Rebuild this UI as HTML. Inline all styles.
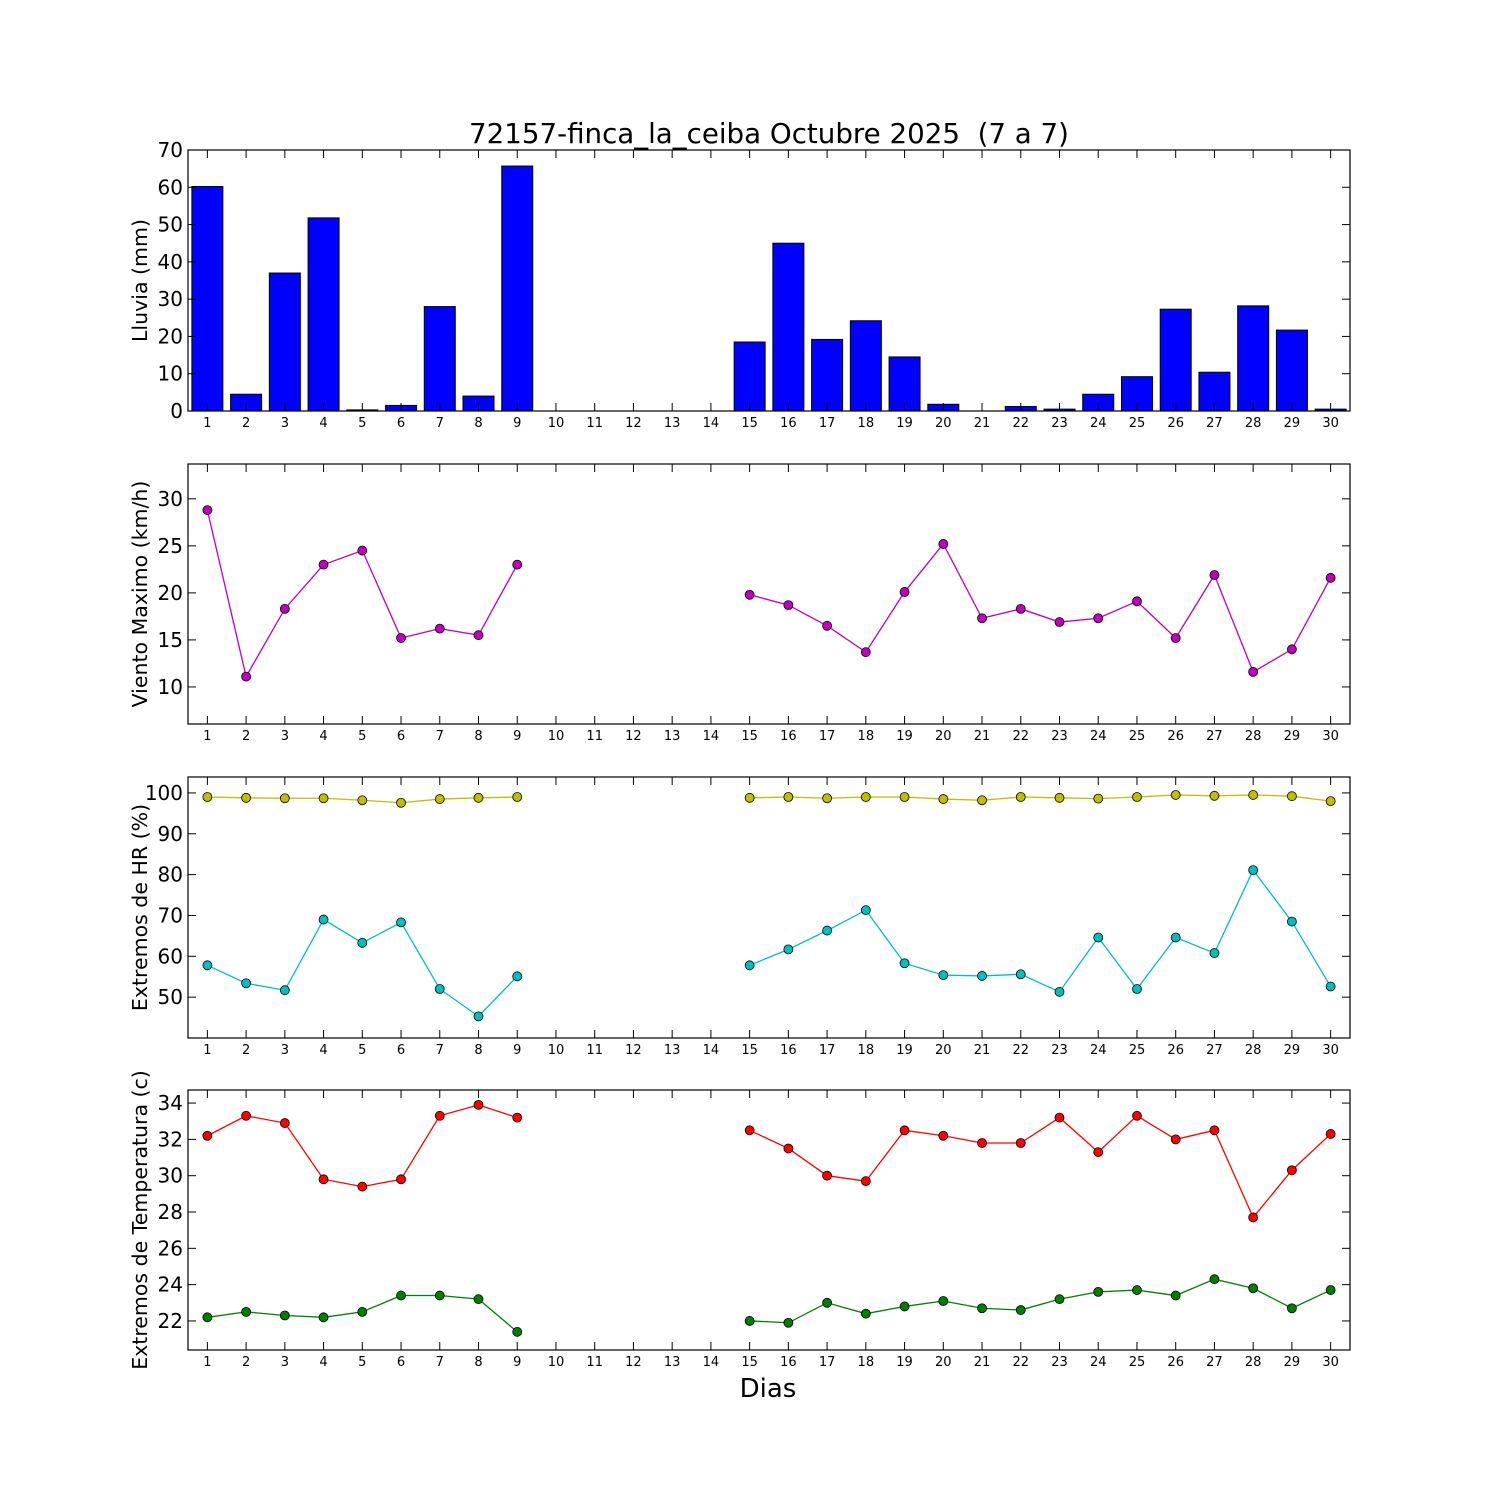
<!DOCTYPE html>
<html><head><meta charset="utf-8"><style>body{margin:0;background:#fff}svg{display:block}text{font-family:"DejaVu Sans","Liberation Sans",sans-serif}</style></head>
<body><svg id="s" width="1500" height="1500" xmlns="http://www.w3.org/2000/svg"></svg>
<script>
const L=188,R=1350,dx=(R-L)/30;
const X=d=>L+(d-0.5)*dx;
let o='<rect width="1500" height="1500" fill="#fff"/>';
o+='<text x="769" y="143" font-size="27.7" text-anchor="middle">72157-finca_la_ceiba Octubre 2025 \u00a0(7 a 7)</text>';
const days=[1,2,3,4,5,6,7,8,9,15,16,17,18,19,20,21,22,23,24,25,26,27,28,29,30];
function panel(top,bot,ymin,ymax,ticks,label,draw){
  const Y=v=>bot-(v-ymin)/(ymax-ymin)*(bot-top);
  let s=draw(Y);
  s+=`<rect x="${L}" y="${top}" width="${R-L}" height="${bot-top}" fill="none" stroke="#000" stroke-width="1.2"/>`;
  for(const t of ticks){const y=Y(t);
    s+=`<line x1="${L}" x2="${L+8}" y1="${y}" y2="${y}" stroke="#000"/><line x1="${R-8}" x2="${R}" y1="${y}" y2="${y}" stroke="#000"/>`;
    s+=`<text x="${L-5}" y="${y+7}" font-size="20" text-anchor="end">${t}</text>`;}
  for(let d=1;d<=30;d++){const x=X(d);
    s+=`<line x1="${x}" x2="${x}" y1="${bot}" y2="${bot-8}" stroke="#000"/><line x1="${x}" x2="${x}" y1="${top}" y2="${top+8}" stroke="#000"/>`;
    s+=`<text x="${x}" y="${bot+16}" font-size="13" text-anchor="middle">${d}</text>`;}
  const cy=(top+bot)/2;
  s+=`<text x="147" y="${cy}" font-size="20.5" text-anchor="middle" transform="rotate(-90 147 ${cy})">${label}</text>`;
  return s;
}
function series(Y,vals,col){
  let s='';const seg=[vals.slice(0,9),vals.slice(9)];const dd=[days.slice(0,9),days.slice(9)];
  for(let k=0;k<2;k++){s+=`<polyline fill="none" stroke="${col}" stroke-width="1.3" points="${seg[k].map((v,i)=>X(dd[k][i])+','+Y(v)).join(' ')}"/>`;}
  vals.forEach((v,i)=>{s+=`<circle cx="${X(days[i])}" cy="${Y(v)}" r="4.5" fill="${col}" stroke="#000" stroke-width="0.8"/>`;});
  return s;
}
const rain=[60.2,4.5,37,51.8,0.3,1.5,28,4,65.7,18.5,45,19.2,24.2,14.5,1.8,0,1.2,0.5,4.5,9.2,27.3,10.4,28.2,21.7,0.5];
o+=panel(150,411,0,70,[0,10,20,30,40,50,60,70],'Lluvia (mm)',Y=>{let s='';rain.forEach((v,i)=>{if(v>0){const x=X(days[i])-0.4*dx;s+=`<rect x="${x}" y="${Y(v)}" width="${0.8*dx}" height="${Y(0)-Y(v)}" fill="#0000ff" stroke="#000" stroke-width="1"/>`;}});return s;});
const wind=[28.8,11.1,18.3,23,24.5,15.2,16.2,15.5,23,19.8,18.7,16.5,13.7,20.1,25.2,17.3,18.3,16.9,17.3,19.1,15.2,21.9,11.6,14.0,21.6];
o+=panel(464,724,6.06,33.7,[10,15,20,25,30],'Viento Maximo (km/h)',Y=>series(Y,wind,'#bf00bf'));
const hmax=[99,98.8,98.7,98.7,98.2,97.6,98.5,98.8,99,98.8,99,98.7,99,99,98.5,98.2,99,98.8,98.6,99,99.5,99.3,99.5,99.2,98];
const hmin=[57.8,53.4,51.7,69,63.3,68.3,52,45.3,55.1,57.8,61.7,66.3,71.3,58.3,55.4,55.2,55.6,51.3,64.6,52,64.6,60.8,81.1,68.5,52.6];
o+=panel(777,1038,40,103.9,[50,60,70,80,90,100],'Extremos de HR (%)',Y=>series(Y,hmax,'#bfbf00')+series(Y,hmin,'#00bfbf'));
const tmax=[32.2,33.3,32.9,29.8,29.4,29.8,33.3,33.9,33.2,32.5,31.5,30,29.7,32.5,32.2,31.8,31.8,33.2,31.3,33.3,32,32.5,27.7,30.3,32.3];
const tmin=[22.2,22.5,22.3,22.2,22.5,23.4,23.4,23.2,21.4,22,21.9,23,22.4,22.8,23.1,22.7,22.6,23.2,23.6,23.7,23.4,24.3,23.8,22.7,23.7];
o+=panel(1090,1350,20.4,34.72,[22,24,26,28,30,32,34],'Extremos de Temperatura (c)',Y=>series(Y,tmax,'#ff0000')+series(Y,tmin,'#008000'));
o+='<text x="768" y="1397" font-size="26" text-anchor="middle">Dias</text>';
document.getElementById('s').innerHTML=o;
</script></body></html>
